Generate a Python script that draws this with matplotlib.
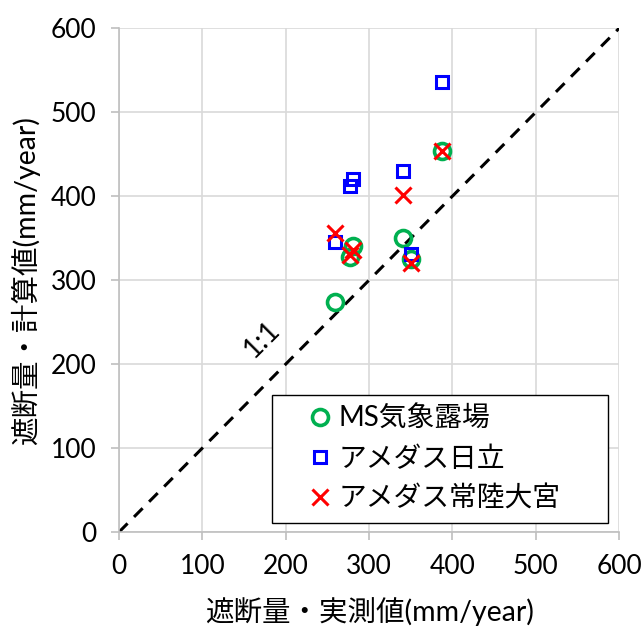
import matplotlib
matplotlib.use("Agg")
import matplotlib.pyplot as plt
from matplotlib.patches import Rectangle

plt.rcParams['font.family'] = ['Lato', 'Noto Sans CJK JP', 'DejaVu Sans']

# Observed interception (x) and computed interception for each station (y)
observed = [259, 277, 281, 341, 350, 388]
ms_site = [274, 328, 341, 350, 325, 454]
amedas_hitachi = [346, 412, 420, 430, 331, 536]
amedas_hitachiomiya = [356, 330, 336, 401, 320, 454]

series_labels = ["MS気象露場", "アメダス日立", "アメダス常陸大宮"]
ticks = [0, 100, 200, 300, 400, 500, 600]

fig = plt.figure(figsize=(6.43, 6.26), dpi=100)
ax = fig.add_axes([0.185, 0.150, 0.778, 0.805])

ax.plot([0, 600], [0, 600], ls=(0, (4, 3)), color="black", lw=2.2, zorder=2)
ax.text(171, 229, "1:1", rotation=45, fontsize=20, ha="center", va="center",
        zorder=2)

ax.plot(observed, ms_site, ls="none", marker="o", ms=11.5, mfc="none",
        mec="#00B050", mew=2.6, label=series_labels[0], zorder=3)
ax.plot(observed, amedas_hitachi, ls="none", marker="s", ms=8.5, mfc="none",
        mec="#0000FF", mew=2.2, label=series_labels[1], zorder=4)
ax.plot(observed, amedas_hitachiomiya, ls="none", marker="x", ms=11, mfc="none",
        mec="#FF0000", mew=2.2, label=series_labels[2], zorder=5)

ax.set_xlim(0, 600)
ax.set_ylim(0, 600)
ax.set_xticks(ticks)
ax.set_yticks(ticks)
ax.grid(True, color="#D9D9D9", lw=1.2)
ax.set_axisbelow(True)
for s in ["top", "right"]:
    ax.spines[s].set_visible(False)
for s in ["left", "bottom"]:
    ax.spines[s].set_color("#BFBFBF")
    ax.spines[s].set_linewidth(1.2)
ax.tick_params(axis="both", direction="out", length=6, width=1.2,
               color="#BFBFBF", labelsize=19, pad=10)

ax.set_xlabel("遮断量・実測値(mm/year)", fontsize=20.5, labelpad=13)
ax.set_ylabel("遮断量・計算値(mm/year)", fontsize=20.5, labelpad=8)

# Legend box drawn separately so its padding can be wider than the entries
frame = Rectangle((0.306, 0.018), 0.672, 0.254, transform=ax.transAxes,
                  facecolor="white", edgecolor="black", lw=1.0, zorder=6)
ax.add_patch(frame)
leg = ax.legend(loc="center left", bbox_to_anchor=(0.358, 0.145), fontsize=20,
                frameon=False, handlelength=0.8, handletextpad=0.25,
                borderpad=0.4, labelspacing=0.5, borderaxespad=0)
leg.set_zorder(7)

fig.savefig("out.png", dpi=100)
